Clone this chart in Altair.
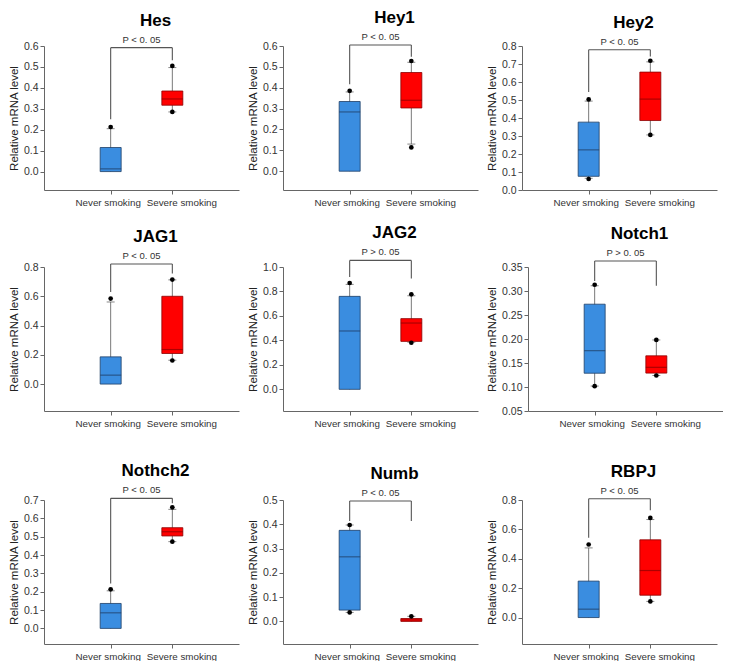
import altair as alt
import pandas as pd

# ---------------- data ----------------
genes = ["Hes", "Hey1", "Hey2", "JAG1", "JAG2", "Notch1", "Nothch2", "Numb", "RBPJ"]
groups = ["Never smoking", "Severe smoking"]
p_labels = ["P < 0. 05", "P < 0. 05", "P < 0. 05",
            "P < 0. 05", "P > 0. 05", "P > 0. 05",
            "P < 0. 05", "P < 0. 05", "P < 0. 05"]

# Never smoking: [whisker low, Q1, median, Q3, whisker high]
never_stats = [
    [0.0, 0.0, 0.013, 0.115, 0.205],
    [0.0, 0.0, 0.284, 0.334, 0.38],
    [0.065, 0.076, 0.223, 0.377, 0.494],
    [0.0, 0.0, 0.061, 0.186, 0.561],
    [0.0, 0.0, 0.477, 0.76, 0.858],
    [0.102, 0.1287, 0.1757, 0.2725, 0.311],
    [0.0, 0.0, 0.085, 0.136, 0.205],
    [0.037, 0.0466, 0.266, 0.375, 0.397],
    [0.0, 0.0, 0.057, 0.248, 0.474],
]
# Severe smoking: [whisker low, Q1, median, Q3, whisker high]
severe_stats = [
    [0.285, 0.317, 0.347, 0.385, 0.497],
    [0.13, 0.303, 0.34, 0.473, 0.522],
    [0.306, 0.386, 0.505, 0.655, 0.712],
    [0.163, 0.209, 0.236, 0.6, 0.712],
    [0.385, 0.392, 0.542, 0.578, 0.765],
    [0.124, 0.129, 0.141, 0.165, 0.198],
    [0.473, 0.504, 0.527, 0.549, 0.649],
    [0.0, 0.0, 0.006, 0.012, 0.021],
    [0.11, 0.152, 0.32, 0.529, 0.667],
]
# extreme points drawn as dots
never_dots = [
    [0.213], [0.385], [0.061, 0.503], [0.584], [0.869],
    [0.1017, 0.313], [0.213], [0.037, 0.397], [0.497],
]
severe_dots = [
    [0.285, 0.505], [0.114, 0.528], [0.306, 0.718], [0.161, 0.714], [0.381, 0.777],
    [0.124, 0.198], [0.473, 0.66], [0.021], [0.11, 0.678],
]
# significance bracket: [top, left leg bottom, right leg bottom]
brackets = [
    [0.592, 0.25, 0.532],
    [0.605, 0.417, 0.549],
    [0.779, 0.544, 0.742],
    [0.82, 0.63, 0.755],
    [1.054, 0.918, 0.905],
    [0.3624, 0.321, 0.311],
    [0.709, 0.245, 0.682],
    [0.496, 0.414, 0.414],
    [0.809, 0.543, 0.731],
]
# y axis domains and tick labels
y_domains = [
    [-0.088, 0.6], [-0.09, 0.6], [0.0, 0.8],
    [-0.184, 0.8], [-0.177, 1.0], [0.05, 0.35],
    [-0.085, 0.7], [-0.093, 0.5], [-0.18, 0.8],
]
y_ticks = [
    [0.0, 0.1, 0.2, 0.3, 0.4, 0.5, 0.6],
    [0.0, 0.1, 0.2, 0.3, 0.4, 0.5, 0.6],
    [0.0, 0.1, 0.2, 0.3, 0.4, 0.5, 0.6, 0.7, 0.8],
    [0.0, 0.2, 0.4, 0.6, 0.8],
    [0.0, 0.2, 0.4, 0.6, 0.8, 1.0],
    [0.05, 0.10, 0.15, 0.20, 0.25, 0.30, 0.35],
    [0.0, 0.1, 0.2, 0.3, 0.4, 0.5, 0.6, 0.7],
    [0.0, 0.1, 0.2, 0.3, 0.4, 0.5],
    [0.0, 0.2, 0.4, 0.6, 0.8],
]
y_formats = [".1f", ".1f", ".1f", ".1f", ".1f", ".2f", ".1f", ".1f", ".1f"]

fills = ["#3a8de0", "#ff0000"]
edges = ["#1f3f66", "#8b0000"]

FONT = "Liberation Sans"
W, H = 195, 144


def panel(i):
    dom = y_domains[i]

    def X(field):
        return alt.X(
            field + ":Q",
            scale=alt.Scale(domain=[0, 3], nice=False, zero=False),
            axis=alt.Axis(
                values=[1, 2],
                labelExpr="datum.value == 1 ? '%s' : '%s'" % (groups[0], groups[1]),
                labelOffset={"condition": {"test": "datum.value == 1", "value": -3},
                             "value": 9},
                title=None, grid=False, tickSize=4, labelFontSize=9.8,
                labelPadding=3, labelFont=FONT, labelColor="#333",
            ),
        )

    def Y(field):
        return alt.Y(
            field + ":Q",
            scale=alt.Scale(domain=dom, nice=False, zero=False),
            axis=alt.Axis(
                values=y_ticks[i], format=y_formats[i], title="Relative mRNA level",
                grid=False, tickSize=4, labelFontSize=10.5, labelFont=FONT,
                labelColor="#333", titleFont=FONT, titleFontSize=11.5,
                titleFontWeight="normal", titleColor="#222", labelPadding=2,
                titlePadding=4,
            ),
        )

    stats = [never_stats[i], severe_stats[i]]
    box = pd.DataFrame({
        "x": [1, 2],
        "lo": [s[0] for s in stats],
        "q1": [s[1] for s in stats],
        "med": [s[2] for s in stats],
        "q3": [s[3] for s in stats],
        "hi": [s[4] for s in stats],
        "fill": fills,
        "edge": edges,
    })
    caps = []
    for k, s in enumerate(stats):
        if s[0] < s[1]:
            caps.append({"x": k + 1, "v": s[0]})
        if s[4] > s[3]:
            caps.append({"x": k + 1, "v": s[4]})
    caps = pd.DataFrame(caps)
    dots = pd.DataFrame(
        [{"x": 1, "v": v} for v in never_dots[i]] + [{"x": 2, "v": v} for v in severe_dots[i]]
    )
    top, lb, rb = brackets[i]
    legs = pd.DataFrame({"x": [1, 2], "b": [lb, rb], "t": [top, top]})
    hline = pd.DataFrame({"x": [1], "x2": [2], "t": [top]})
    ptxt = pd.DataFrame({"x": [1.5], "t": [top], "label": [p_labels[i]]})

    whisk = alt.Chart(box).mark_rule(color="#7a7a7a", strokeWidth=1).encode(
        x=X("x"), y=Y("lo"), y2="hi")
    capm = alt.Chart(caps).mark_tick(orient="horizontal", size=8, thickness=1,
                                      color="#555").encode(x=X("x"), y=Y("v"))
    boxes = alt.Chart(box).mark_bar(size=21, strokeWidth=0.8).encode(
        x=X("x"), y=Y("q1"), y2="q3",
        fill=alt.Fill("fill:N", scale=None),
        stroke=alt.Stroke("edge:N", scale=None))
    med = alt.Chart(box).mark_tick(orient="horizontal", size=21, thickness=1.2).encode(
        x=X("x"), y=Y("med"), color=alt.Color("edge:N", scale=None))
    dotm = alt.Chart(dots).mark_circle(size=22, color="black", opacity=1).encode(
        x=X("x"), y=Y("v"))
    legm = alt.Chart(legs).mark_rule(color="#555", strokeWidth=1.1).encode(
        x=X("x"), y=Y("b"), y2="t")
    hlm = alt.Chart(hline).mark_rule(color="#555", strokeWidth=1.1).encode(
        x=X("x"), x2="x2", y=Y("t"))
    txt = alt.Chart(ptxt).mark_text(baseline="bottom", dy=-3, fontSize=9.5,
                                    font=FONT, color="#333").encode(
        x=X("x"), y=Y("t"), text="label:N")

    return alt.layer(whisk, capm, boxes, med, dotm, legm, hlm, txt).properties(
        width=W, height=H,
        title=alt.TitleParams(genes[i], fontSize=17, fontWeight="bold", font=FONT,
                              color="black", anchor="middle", frame="group",
                              offset=5, dx=14),
    )


rows = [alt.hconcat(*[panel(r * 3 + c) for c in range(3)], spacing=8) for r in range(3)]
chart = alt.vconcat(rows[0], alt.vconcat(rows[1], rows[2], spacing=34), spacing=17).properties(
    padding=0, background="white"
).configure_view(stroke=None, strokeWidth=0).configure_axis(
    domainColor="#666", tickColor="#666", domainWidth=1, tickWidth=1
)

chart.save("out.html", embed_options={"renderer": "svg", "actions": False})
